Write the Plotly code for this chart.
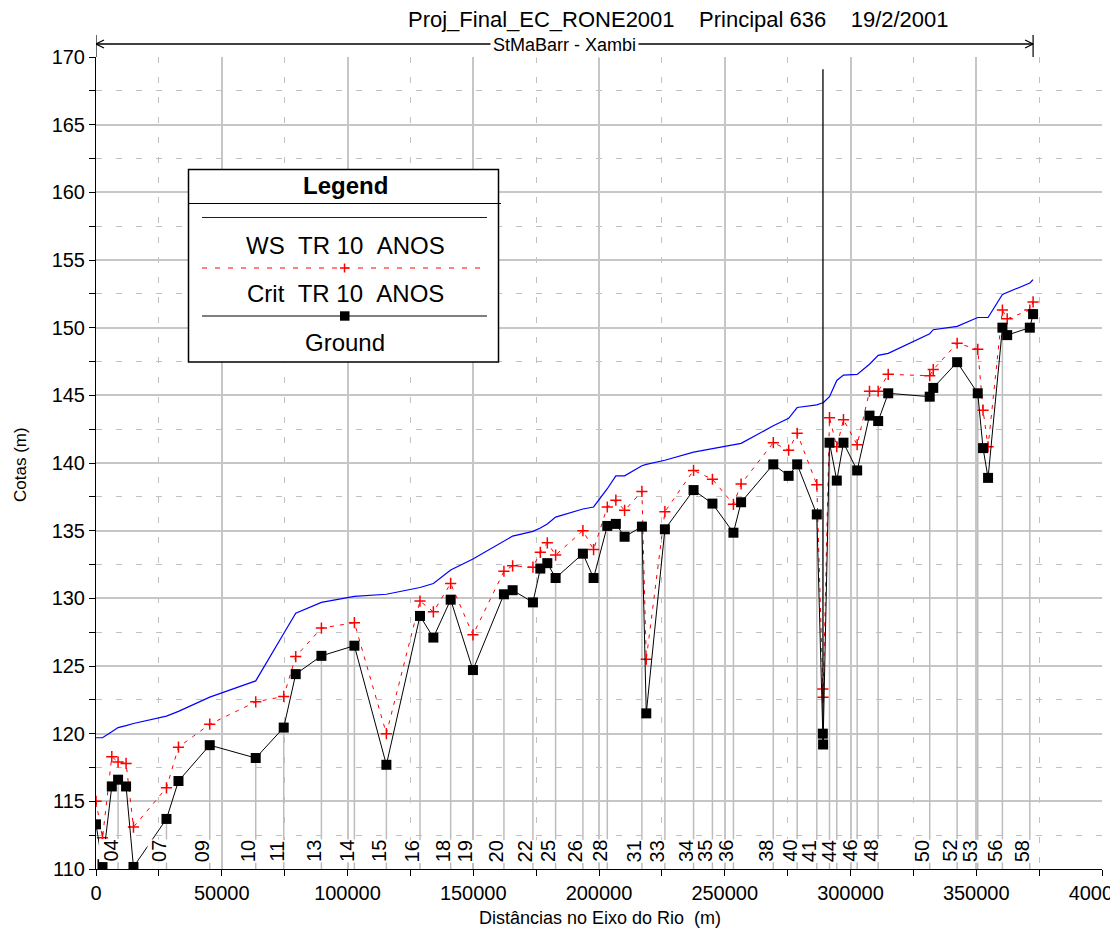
import plotly.graph_objects as go

# ---------------- data ----------------
distance_m = [0, 2580, 6280, 8780, 11960, 14900, 28020, 32790, 45230, 63510,
              74640, 79410, 89630, 102740, 115460, 128820, 134140, 141020, 149880, 162200,
              165660, 173730, 176670, 179450, 182750, 193600, 197850, 203300, 206700, 210180,
              217060, 218800, 226200, 237600, 245100, 253450, 256500, 269300, 275400, 278800,
              286600, 289000, 289100, 291650, 294550, 297200, 302650, 307550, 311000, 315000,
              331500, 332900, 342400, 350600, 352700, 354700, 360400, 362300, 371300, 372600]

ground_m = [113.3, 110.35, 116.1, 116.6, 116.1, 110.15, 113.7, 116.5, 119.15, 118.2,
            120.45, 124.4, 125.75, 126.5, 117.7, 128.7, 127.1, 129.9, 124.7, 130.3,
            130.6, 129.7, 132.2, 132.6, 131.5, 133.3, 131.5, 135.35, 135.5, 134.55,
            135.3, 121.5, 135.1, 138.0, 137.0, 134.85, 137.1, 139.9, 139.05, 139.9,
            136.2, 120.0, 119.2, 141.5, 138.7, 141.5, 139.45, 143.5, 143.1, 145.15,
            144.9, 145.55, 147.45, 145.15, 141.1, 138.9, 150.0, 149.45, 150.0, 151.0]

crit_m = [115.0, 112.3, 118.3, 117.9, 117.8, 113.1, 116.0, 119.0, 120.7, 122.35,
          122.75, 125.7, 127.8, 128.2, 120.0, 129.8, 129.0, 131.1, 127.3, 132.0,
          132.4, 132.3, 133.4, 134.1, 133.2, 135.0, 133.6, 136.75, 137.25, 136.5,
          137.9, 125.5, 136.4, 139.45, 138.8, 136.95, 138.45, 141.5, 140.95, 142.2,
          138.4, 123.3, 122.7, 143.35, 141.2, 143.2, 141.35, 145.3, 145.3, 146.55,
          146.45, 146.9, 148.85, 148.4, 143.9, 141.2, 151.3, 150.65, 151.3, 151.9]

ws_m = [119.7, 119.7, 120.15, 120.45, 120.6, 120.75, 121.3, 121.65, 122.7, 123.9,
        127.4, 128.9, 129.7, 130.15, 130.3, 130.8, 131.1, 132.1, 132.9, 134.2,
        134.6, 134.95, 135.2, 135.5, 136.0, 136.6, 136.75, 138.1, 139.05, 139.05,
        139.8, 139.9, 140.2, 140.8, 141.05, 141.3, 141.45, 142.75, 143.3, 144.1,
        144.3, 144.45, 144.45, 144.9, 146.1, 146.5, 146.55, 147.3, 147.95, 148.1,
        149.55, 149.85, 150.1, 150.75, 150.75, 150.75, 152.45, 152.6, 153.3, 153.55]

station_labels = ["04", "07", "09", "10", "11", "13", "14", "15", "16", "18", "19",
                  "20", "22", "25", "26", "28", "31", "33", "34", "35", "36", "38",
                  "40", "41", "44", "46", "48", "50", "52", "53", "56", "58"]
station_dist = [8780, 28020, 45230, 63510, 74640, 89630, 102740, 115460, 128820, 141020,
                149880, 162200, 173730, 182750, 193600, 203300, 217060, 226200, 237600,
                245100, 253450, 269300, 278800, 286600, 294550, 302650, 311000, 331500,
                342400, 350600, 360400, 371300]
unlabeled_line_dist = [291650]

bridge_dist = 289050
bridge_top = 169.1
bridge_bottom = 119.2

title_text = "Proj_Final_EC_RONE2001 \u00a0\u00a0\u00a0Principal 636 \u00a0\u00a0\u00a019/2/2001"
reach_text = "StMaBarr - Xambi"
legend_items = ["WS\u00a0\u00a0TR 10\u00a0\u00a0ANOS", "Crit\u00a0\u00a0TR 10\u00a0\u00a0ANOS", "Ground"]

# ---------------- layout geometry ----------------
W_FIG, H_FIG = 1110, 936
ML, MR, MT, MB = 96, 8, 57, 67
PW = W_FIG - ML - MR
PH = H_FIG - MT - MB
X_RANGE = [0, 400000]
Y_RANGE = [110, 170]
FONT = "Liberation Sans, Arial, sans-serif"


def px2x(px):
    return (px - ML) / PW


def py2y(py):
    return (MT + PH - py) / PH


fig = go.Figure()

# station lines (from bottom up to the ground)
sx, sy = [], []
for d in station_dist + unlabeled_line_dist:
    g = ground_m[distance_m.index(d)]
    sx += [d, d, None]
    sy += [Y_RANGE[0], g, None]
fig.add_trace(go.Scatter(x=sx, y=sy, mode="lines",
                         line=dict(color="#bdbdbd", width=1.5), hoverinfo="skip"))

# WS
fig.add_trace(go.Scatter(x=distance_m, y=ws_m, mode="lines",
                         line=dict(color="#0000ff", width=1.2), name="WS TR 10 ANOS"))
# Crit
fig.add_trace(go.Scatter(x=distance_m, y=crit_m, mode="lines+markers",
                         line=dict(color="#ff0000", width=1, dash="4px,6px"),
                         marker=dict(symbol="cross-thin", size=8,
                                     line=dict(color="#ff0000", width=1.5)),
                         name="Crit TR 10 ANOS"))
# Ground
fig.add_trace(go.Scatter(x=distance_m, y=ground_m, mode="lines+markers",
                         line=dict(color="black", width=1),
                         marker=dict(symbol="square", size=10, color="black"),
                         name="Ground"))
# bridge / marker line
fig.add_trace(go.Scatter(x=[bridge_dist, bridge_dist], y=[bridge_bottom, bridge_top],
                         mode="lines", line=dict(color="black", width=1.3), hoverinfo="skip"))

annotations = []
# station labels
for lab, d in zip(station_labels, station_dist):
    annotations.append(dict(x=d, y=Y_RANGE[0], xref="x", yref="y", text=lab, textangle=-90,
                            xanchor="center", yanchor="bottom", xshift=-7.5, yshift=6,
                            showarrow=False, bgcolor="white", borderpad=0,
                            font=dict(size=20, color="black", family=FONT)))

# title
annotations.append(dict(x=px2x(678), y=py2y(20), xref="paper", yref="paper", text=title_text,
                        showarrow=False, xanchor="center", yanchor="middle",
                        font=dict(size=22, color="black", family=FONT)))
# reach label
reach_start, reach_end = distance_m[0], distance_m[-1]
annotations.append(dict(x=(reach_start + reach_end) / 2, y=py2y(45), xref="x", yref="paper",
                        text=reach_text, showarrow=False, xanchor="center", yanchor="middle",
                        bgcolor="white", borderpad=2,
                        font=dict(size=18, color="black", family=FONT)))
# axis titles
annotations.append(dict(x=px2x(20), y=py2y(465), xref="paper", yref="paper", text="Cotas (m)",
                        textangle=-90, showarrow=False, xanchor="center", yanchor="middle",
                        font=dict(size=17, color="black", family=FONT)))
annotations.append(dict(x=px2x(600), y=py2y(918), xref="paper", yref="paper",
                        text="Distâncias no Eixo do Rio\u00a0\u00a0(m)", showarrow=False,
                        xanchor="center", yanchor="middle",
                        font=dict(size=18, color="black", family=FONT)))
# legend texts
annotations.append(dict(x=px2x(345), y=py2y(185), xref="paper", yref="paper", text="<b>Legend</b>",
                        showarrow=False, xanchor="center", yanchor="middle",
                        font=dict(size=24, color="black", family=FONT)))
for txt, py in zip(legend_items, [246, 293.5, 343]):
    annotations.append(dict(x=px2x(345), y=py2y(py), xref="paper", yref="paper", text=txt,
                            showarrow=False, xanchor="center", yanchor="middle",
                            font=dict(size=24, color="black", family=FONT)))

shapes = []
# reach arrow
ay = py2y(44)
head_dx = 8 * (X_RANGE[1] - X_RANGE[0]) / PW
head_dy = 4 / PH
shapes.append(dict(type="line", xref="x", yref="paper", x0=reach_start, x1=reach_end,
                   y0=ay, y1=ay, line=dict(color="black", width=1.5)))
for xe, sgn in [(reach_start, 1), (reach_end, -1)]:
    shapes.append(dict(type="line", xref="x", yref="paper", x0=xe, x1=xe,
                       y0=py2y(35), y1=py2y(57), line=dict(color="black", width=1.2)))
    shapes.append(dict(type="line", xref="x", yref="paper", x0=xe, x1=xe + sgn * head_dx,
                       y0=ay, y1=ay + head_dy, line=dict(color="black", width=1.2)))
    shapes.append(dict(type="line", xref="x", yref="paper", x0=xe, x1=xe + sgn * head_dx,
                       y0=ay, y1=ay - head_dy, line=dict(color="black", width=1.2)))

# legend box
shapes.append(dict(type="rect", xref="paper", yref="paper", x0=px2x(188.5), x1=px2x(498.5),
                   y0=py2y(362), y1=py2y(169.5), line=dict(color="black", width=1.5),
                   fillcolor="white", layer="above"))
shapes.append(dict(type="line", xref="paper", yref="paper", x0=px2x(188.5), x1=px2x(501),
                   y0=py2y(203.5), y1=py2y(203.5), line=dict(color="black", width=1.2)))
shapes.append(dict(type="line", xref="paper", yref="paper", x0=px2x(202), x1=px2x(487),
                   y0=py2y(217.5), y1=py2y(217.5), line=dict(color="#0000ff", width=1.2)))
shapes.append(dict(type="line", xref="paper", yref="paper", x0=px2x(202), x1=px2x(487),
                   y0=py2y(268), y1=py2y(268), line=dict(color="#ff0000", width=1, dash="5px,8px")))
shapes.append(dict(type="line", xref="paper", yref="paper", x0=px2x(340), x1=px2x(349),
                   y0=py2y(268), y1=py2y(268), line=dict(color="#ff0000", width=1.5)))
shapes.append(dict(type="line", xref="paper", yref="paper", x0=px2x(344.5), x1=px2x(344.5),
                   y0=py2y(263.5), y1=py2y(272.5), line=dict(color="#ff0000", width=1.5)))
shapes.append(dict(type="line", xref="paper", yref="paper", x0=px2x(202), x1=px2x(487),
                   y0=py2y(316), y1=py2y(316), line=dict(color="black", width=1)))
shapes.append(dict(type="rect", xref="paper", yref="paper", x0=px2x(340), x1=px2x(349.5),
                   y0=py2y(320.7), y1=py2y(311.3), line=dict(color="black", width=0),
                   fillcolor="black"))

fig.update_layout(
    width=W_FIG, height=H_FIG,
    margin=dict(l=ML, r=MR, t=MT, b=MB, pad=0, autoexpand=False),
    plot_bgcolor="white", paper_bgcolor="white",
    showlegend=False,
    font=dict(family=FONT, color="black", size=20),
    annotations=annotations,
    shapes=shapes,
)

grid_major = "#c6c6c6"
grid_minor = "#c0c0c0"
fig.update_xaxes(range=X_RANGE, tick0=0, dtick=50000, tickformat="d",
                 ticklabeloverflow="allow", automargin=False,
                 showline=True, linecolor="black", linewidth=1,
                 ticks="outside", ticklen=6, tickcolor="black",
                 showgrid=True, gridcolor=grid_major, gridwidth=1.5, zeroline=False,
                 tickfont=dict(size=20, family=FONT, color="black"),
                 minor=dict(tick0=0, dtick=25000, ticks="outside", ticklen=6, tickcolor="black",
                            showgrid=True, gridcolor=grid_minor, gridwidth=1, griddash="6px,14px"))
fig.update_yaxes(range=Y_RANGE, tick0=110, dtick=5, automargin=False,
                 showline=True, linecolor="black", linewidth=1,
                 ticks="outside", ticklen=6, tickcolor="black",
                 showgrid=True, gridcolor=grid_major, gridwidth=1.5, zeroline=False,
                 tickfont=dict(size=20, family=FONT, color="black"),
                 minor=dict(tick0=110, dtick=2.5, ticks="outside", ticklen=6, tickcolor="black",
                            showgrid=True, gridcolor=grid_minor, gridwidth=1, griddash="6px,14px"))

fig.write_html("out.html")
